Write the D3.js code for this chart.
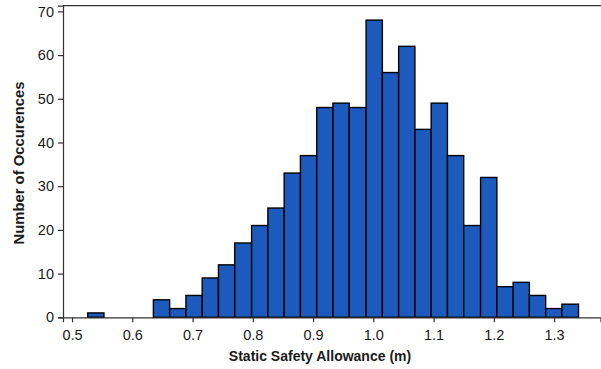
<!DOCTYPE html>
<html>
<head>
<meta charset="utf-8">
<script src="https://cdn.jsdelivr.net/npm/d3@7/dist/d3.min.js"></script>
<style>
  body { margin: 0; background: #fff; }
  svg { display: block; font-family: 'Liberation Sans', Arial, sans-serif; }
</style>
</head>
<body>
<svg id="chart" width="601" height="369"></svg>
<script>
// lower edge of each histogram bin (m)
const binStarts = [
  0.526, 0.553, 0.580, 0.607, 0.635, 0.662, 0.689, 0.716, 0.743, 0.770,
  0.798, 0.825, 0.852, 0.879, 0.906, 0.933, 0.960, 0.988, 1.015, 1.042,
  1.069, 1.096, 1.123, 1.150, 1.178, 1.205, 1.232, 1.259, 1.286, 1.313,
];
const binEnd = 1.3405;
const counts = [
  1, 0, 0, 0, 4, 2, 5, 9, 12, 17,
  21, 25, 33, 37, 48, 49, 48, 68, 56, 62,
  43, 49, 37, 21, 32, 7, 8, 5, 2, 3,
];
const xTicks = [0.5, 0.6, 0.7, 0.8, 0.9, 1.0, 1.1, 1.2, 1.3];
const yTicks = [0, 10, 20, 30, 40, 50, 60, 70];

const colours = {
  bar: '#1c5bbd',
  axis: '#333',
  text: '#1a1a1a',
};

const margin = { top: 5.7, left: 63, right: 0.5, bottom: 317.3 };
const sel = d3.select('#chart');

const bins = binStarts.map((x0, i) => ({
  x0,
  x1: i < binStarts.length - 1 ? binStarts[i + 1] : binEnd,
  n: counts[i],
}));

const xScale = d3
  .scaleLinear()
  .domain([0.485, 1.377])
  .range([margin.left, 601 - margin.right]);
const yScale = d3
  .scaleLinear()
  .domain([0, 71.3])
  .range([margin.bottom, margin.top]);

// bars (skip empty bins)
sel
  .append('g')
  .selectAll('rect')
  .data(bins.filter(d => d.n > 0))
  .join('rect')
  .attr('x', d => xScale(d.x0))
  .attr('y', d => yScale(d.n))
  .attr('width', d => xScale(d.x1) - xScale(d.x0))
  .attr('height', d => yScale(0) - yScale(d.n))
  .attr('fill', colours.bar)
  .attr('stroke', '#000')
  .attr('stroke-width', 1.4);

// axes
const xAxis = sel
  .append('g')
  .attr('transform', `translate(0,${margin.bottom})`)
  .call(
    d3.axisBottom(xScale)
      .tickValues(xTicks)
      .tickFormat(d3.format('.1f'))
      .tickSizeOuter(0)
      .tickSize(5)
      .tickPadding(7),
  );
const yAxis = sel
  .append('g')
  .attr('transform', `translate(${margin.left},0)`)
  .call(
    d3.axisLeft(yScale)
      .tickValues(yTicks)
      .tickSizeOuter(0)
      .tickSize(5)
      .tickPadding(4),
  );

[xAxis, yAxis].forEach(ax => {
  ax.select('.domain').attr('stroke', colours.axis).attr('stroke-width', 1.2);
  ax.selectAll('.tick line').attr('stroke', colours.axis).attr('stroke-width', 1.2);
  ax.selectAll('.tick text')
    .attr('fill', colours.text)
    .attr('font-size', 14.5)
    .attr('font-family', "'Liberation Sans', Arial, sans-serif");
});

// top border of the frame
sel
  .append('line')
  .attr('x1', margin.left)
  .attr('x2', 601)
  .attr('y1', margin.top)
  .attr('y2', margin.top)
  .attr('stroke', colours.axis)
  .attr('stroke-width', 1.2);

// axis titles
sel
  .append('text')
  .attr('x', 320)
  .attr('y', 361)
  .attr('text-anchor', 'middle')
  .attr('font-size', 14)
  .attr('font-weight', 'bold')
  .attr('fill', colours.text)
  .text('Static Safety Allowance (m)');
sel
  .append('text')
  .attr('transform', 'translate(24,163) rotate(-90)')
  .attr('text-anchor', 'middle')
  .attr('font-size', 14.8)
  .attr('font-weight', 'bold')
  .attr('fill', colours.text)
  .text('Number of Occurences');
</script>
</body>
</html>
